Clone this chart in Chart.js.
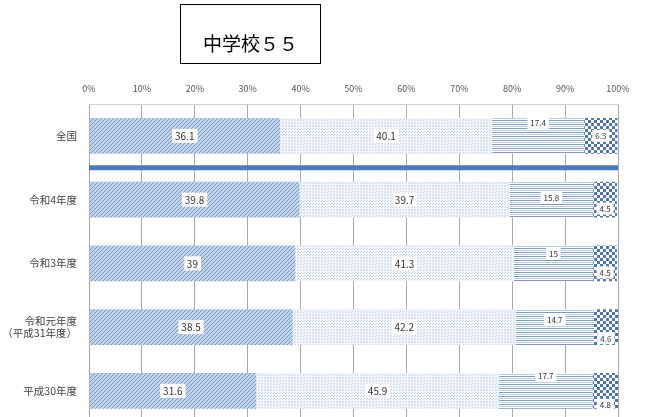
<!DOCTYPE html>
<html>
<head>
<meta charset="utf-8">
<script src="https://cdn.jsdelivr.net/npm/chart.js@4"></script>
<style>
    html, body { margin: 0; padding: 0; background: #fff; overflow: hidden; }
    #wrap { position: relative; width: 647px; height: 417px; overflow: hidden; }
    #chart { position: absolute; left: 0; top: 0; }
    .title-box {
        position: absolute; left: 180px; top: 4px; width: 141px; height: 60px;
        box-sizing: border-box; border: 1.5px solid #000; padding-top: 16px;
        display: flex; align-items: center; justify-content: center;
        font-family: "Noto Sans CJK JP", sans-serif; font-size: 19px; color: #000;
        z-index: 2;
    }
</style>
</head>
<body>
<div id="wrap">
    <div class="title-box">中学校５５</div>
    <canvas id="chart" width="647" height="441"></canvas>
</div>
<script>
// data
const categories = ['全国', '令和4年度', '令和3年度', ['令和元年度', '（平成31年度）'], '平成30年度'];
const series1 = [36.1, 39.8, 39, 38.5, 31.6];
const series2 = [40.1, 39.7, 41.3, 42.2, 45.9];
const series3 = [17.4, 15.8, 15, 14.7, 17.7];
const series4 = [6.3, 4.5, 4.5, 4.6, 4.8];
const xTicks = [0, 10, 20, 30, 40, 50, 60, 70, 80, 90, 100];

// pattern helpers
function makePattern(w, h, draw) {
    const c = document.createElement('canvas');
    c.width = w;
    c.height = h;
    const g = c.getContext('2d');
    draw(g);
    return c.getContext('2d').createPattern(c, 'repeat');
}

const hatch = makePattern(4, 4, g => {
    g.fillStyle = '#c2d4ea';
    g.fillRect(0, 0, 4, 4);
    g.fillStyle = '#7495c6';
    for (let i = 0; i < 4; i++) g.fillRect(i, 3 - i, 1, 1);
});
const dots = makePattern(3, 3, g => {
    g.fillStyle = '#f3f6fa';
    g.fillRect(0, 0, 3, 3);
    g.fillStyle = '#c3d0de';
    g.fillRect(0, 0, 1, 1);
    g.fillRect(1, 2, 1, 1);
});
const stripes = makePattern(4, 4, g => {
    g.fillStyle = '#ffffff';
    g.fillRect(0, 0, 4, 4);
    g.fillStyle = '#7b99c4';
    g.fillRect(0, 0, 4, 1);
    g.fillStyle = '#bccde4';
    g.fillRect(0, 2, 4, 1);
});
const checks = makePattern(6, 6, g => {
    g.fillStyle = '#ffffff';
    g.fillRect(0, 0, 6, 6);
    g.fillStyle = '#5075b0';
    g.fillRect(0, 0, 3, 3);
    g.fillRect(3, 3, 3, 3);
});

// value labels in white boxes
const labelPlugin = {
    id: 'valueLabels',
    afterDatasetsDraw(chart) {
        const ctx = chart.ctx;
        chart.data.datasets.forEach((ds, di) => {
            const meta = chart.getDatasetMeta(di);
            meta.data.forEach((bar, i) => {
                const text = String(ds.data[i]);
                const size = ds.labelSize;
                ctx.save();
                ctx.font = size + 'px "Noto Sans CJK JP", sans-serif';
                ctx.textAlign = 'center';
                ctx.textBaseline = 'middle';
                const x = (bar.x + bar.base) / 2;
                const y = bar.y + ds.labelOffset[i];
                const w = ctx.measureText(text).width + 6;
                const h = size + 4;
                ctx.fillStyle = '#ffffff';
                ctx.fillRect(x - w / 2, y - h / 2, w, h);
                ctx.fillStyle = '#333333';
                ctx.fillText(text, x, y + 0.5);
                ctx.restore();
            });
        });
    }
};

// blue separator between 全国 and the years
const separatorPlugin = {
    id: 'separator',
    afterDatasetsDraw(chart) {
        const y = chart.scales.y;
        const area = chart.chartArea;
        const py = (y.getPixelForValue(0) + y.getPixelForValue(1)) / 2;
        const ctx = chart.ctx;
        ctx.save();
        ctx.strokeStyle = '#4a7bbf';
        ctx.lineWidth = 5;
        ctx.beginPath();
        ctx.moveTo(area.left, py);
        ctx.lineTo(area.right, py);
        ctx.stroke();
        ctx.restore();
    }
};

new Chart(document.getElementById('chart'), {
    type: 'bar',
    data: {
        labels: categories,
        datasets: [
            { data: series1, backgroundColor: hatch, labelSize: 10, labelOffset: [0, 0, 0, 0, 0] },
            { data: series2, backgroundColor: dots, labelSize: 10, labelOffset: [0, 0, 0, 0, 0] },
            { data: series3, backgroundColor: stripes, labelSize: 8, labelOffset: [-13, -2, -10, -8, -15] },
            { data: series4, backgroundColor: checks, labelSize: 8, labelOffset: [0, 9, 9, 11, 14] }
        ]
    },
    options: {
        indexAxis: 'y',
        responsive: false,
        animation: false,
        devicePixelRatio: 1,
        layout: { padding: { right: 29, bottom: 0, left: 0, top: 0 } },
        datasets: {
            bar: { barPercentage: 0.5625, categoryPercentage: 1, borderWidth: 0 }
        },
        plugins: {
            legend: { display: false },
            tooltip: { enabled: false }
        },
        scales: {
            x: {
                position: 'top',
                stacked: true,
                min: 0,
                max: 100,
                afterBuildTicks: axis => { axis.ticks = xTicks.map(v => ({ value: v })); },
                afterFit: axis => { axis.height = 104; },
                ticks: {
                    padding: 10,
                    color: '#555555',
                    font: { family: '"Noto Sans CJK JP", sans-serif', size: 9 },
                    callback: v => v + '%'
                },
                grid: { color: '#a8a8a8', drawTicks: false },
                border: { display: true, color: '#d0d0d0' }
            },
            y: {
                stacked: true,
                afterFit: axis => { axis.width = 89; },
                ticks: {
                    padding: 12,
                    color: '#444444',
                    font: { family: '"Noto Sans CJK JP", sans-serif', size: 10.5 }
                },
                grid: { display: false, drawTicks: false },
                border: { display: false }
            }
        }
    },
    plugins: [labelPlugin, separatorPlugin]
});
</script>
</body>
</html>
